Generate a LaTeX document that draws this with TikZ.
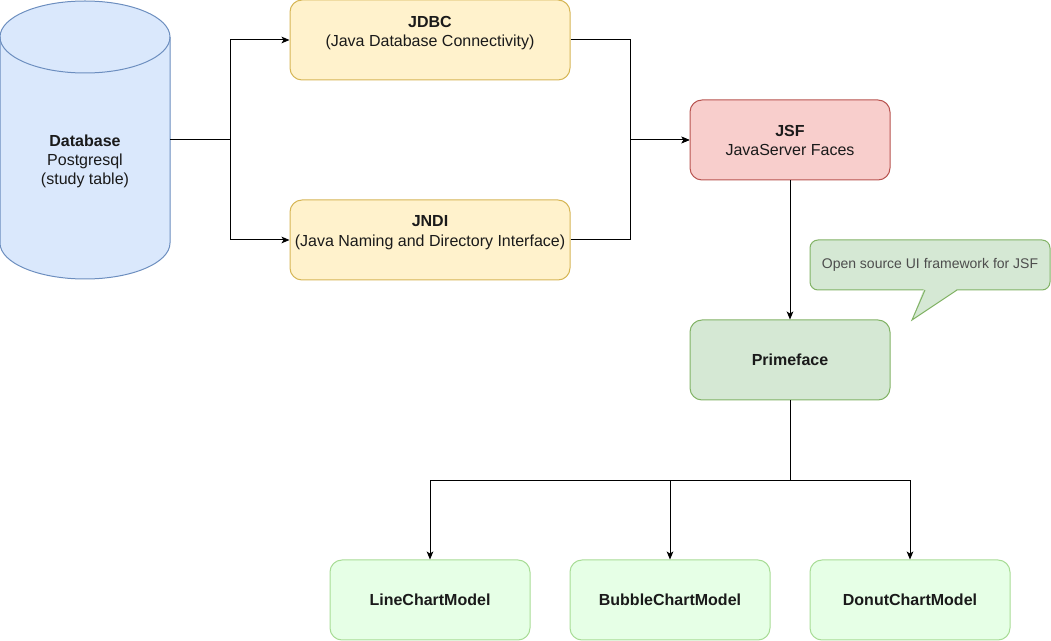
\documentclass[tikz,border=0pt]{standalone}
\usepackage{fontspec}
\setmainfont{Liberation Sans}
\usetikzlibrary{positioning, arrows.meta, calc}

\definecolor{dbfill}{HTML}{DAE8FC}
\definecolor{dbline}{HTML}{6C8EBF}
\definecolor{apifill}{HTML}{FFF2CC}
\definecolor{apiline}{HTML}{D6B656}
\definecolor{jsffill}{HTML}{F8CECC}
\definecolor{jsfline}{HTML}{B85450}
\definecolor{primefill}{HTML}{D5E8D4}
\definecolor{primeline}{HTML}{82B366}
\definecolor{chartfill}{HTML}{E6FFE6}
\definecolor{chartline}{HTML}{A8DC96}
\definecolor{txt}{HTML}{1A1A1A}
\definecolor{notetxt}{HTML}{4D4D4D}

\begin{document}
\begin{tikzpicture}[
    x=0.75pt, y=-0.75pt, % one unit is one pixel, y points down
    >={Stealth[length=6pt, width=5pt, inset=1.5pt]},
    every node/.style={font=\fontsize{12}{14.25}\selectfont, text=txt},
    % Styles
    box/.style={ % rounded box
        rectangle,
        rounded corners=9pt,
        minimum width=150pt,
        minimum height=60pt,
        align=center,
        line width=0.75pt,
        draw
    },
    api/.style={ % JDBC / JNDI boxes
        box,
        minimum width=210pt,
        fill=apifill,
        draw=apiline
    },
    jsf/.style={ % JSF box
        box,
        fill=jsffill,
        draw=jsfline
    },
    prime/.style={ % Primeface box
        box,
        fill=primefill,
        draw=primeline
    },
    chart/.style={ % chart models
        box,
        fill=chartfill,
        draw=chartline
    },
    note/.style={ % speech bubble
        rectangle,
        rounded corners=6pt,
        minimum width=180pt,
        minimum height=37.5pt,
        line width=0.75pt,
        fill=primefill,
        draw=primeline,
        text=notetxt,
        font=\fontsize{10.5}{12}\selectfont
    },
    arrow/.style={
        ->,
        line width=0.75pt
    },
    line/.style={
        line width=0.75pt
    }
]
    \useasboundingbox (0,0) rectangle (1051,641);

    % Database cylinder
    \draw[line width=0.75pt, fill=dbfill, draw=dbline]
        (0,37) -- (0,243)
        arc[start angle=180, end angle=360, x radius=63.75pt, y radius=27pt]
        -- (170,37)
        arc[start angle=0, end angle=180, x radius=63.75pt, y radius=27pt]
        -- cycle;
    \draw[line width=0.75pt, draw=dbline]
        (0,37) arc[start angle=180, end angle=360, x radius=63.75pt, y radius=27pt];
    \node[minimum width=127.5pt, minimum height=210pt, align=center] (db) at (85,140)
        {\rule{0pt}{40pt}\textbf{Database}\\Postgresql\\(study table)};

    % Java access layers
    \node[api] (jdbc) at (430,40)
        {\textbf{JDBC}\\(Java Database Connectivity)\rule[-13.5pt]{0pt}{0pt}};
    \node[api] (jndi) at (430,240)
        {\textbf{JNDI}\\(Java Naming and Directory Interface)\rule[-13.5pt]{0pt}{0pt}};

    % JSF and Primeface
    \node[jsf] (jsf) at (790,140) {\textbf{JSF}\\JavaServer Faces};
    \node[prime] (prime) at (790,360) {\textbf{Primeface}};

    % Speech bubble
    \node[note] (note) at (930,265) {Open source UI framework for JSF};
    \fill[primefill] (924,288.5) -- (912,320) -- (958,288.5) -- cycle;
    \draw[line, draw=primeline] (925,290) -- (912,320) -- (957,290);

    % Chart models
    \foreach \N/\X/\T in {linechart/430/LineChartModel,
                          bubblechart/670/BubbleChartModel,
                          donutchart/910/DonutChartModel} {
        \node[chart] (\N) at (\X,600) {\textbf{\T}};
    }

    % Arrows
    \draw[line] (db.east) -- ++(60,0) coordinate (dbsplit);
    \draw[arrow] (dbsplit) |- (jdbc.west);
    \draw[arrow] (dbsplit) |- (jndi.west);
    \draw[arrow] (jdbc.east) -- ++(60,0) |- (jsf.west);
    \draw[arrow] (jndi.east) -- ++(60,0) |- (jsf.west);
    \draw[arrow] (jsf.south) -- (prime.north);
    \draw[line] (prime.south) -- ++(0,80) coordinate (fork);
    \foreach \N in {linechart, bubblechart, donutchart} {
        \draw[arrow] (fork) -| (\N.north);
    }
\end{tikzpicture}
\end{document}
